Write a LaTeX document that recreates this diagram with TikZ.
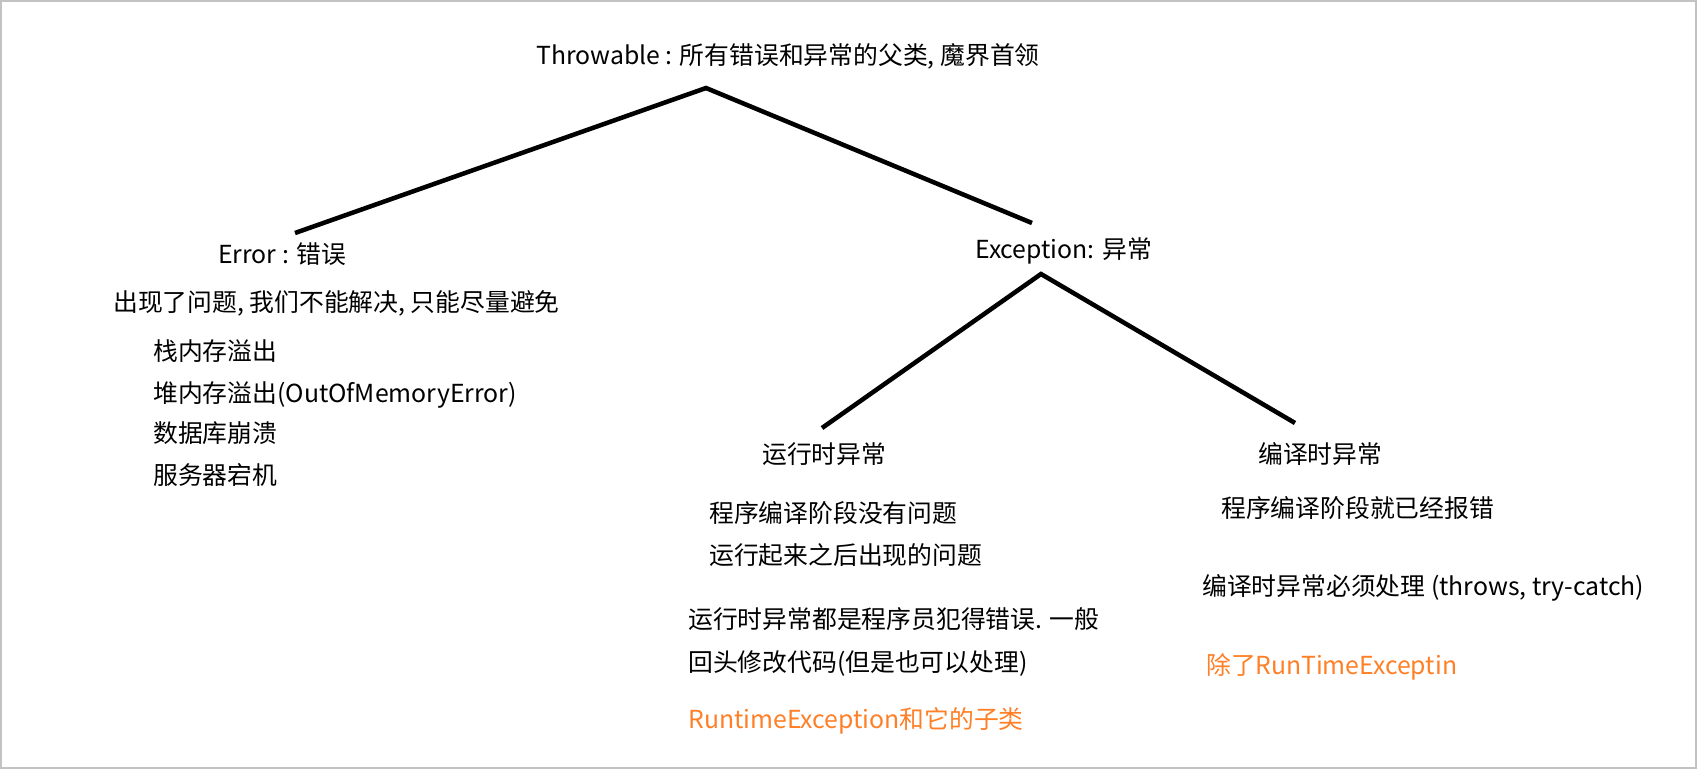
\documentclass[tikz,border=0pt]{standalone}
\usepackage{fontspec}
\setmainfont{Noto Sans CJK SC}
\definecolor{framegray}{RGB}{195,195,195}
\definecolor{noteorange}{RGB}{255,127,39}
\tikzset{
  lbl/.style={anchor=base west, inner sep=0pt, font=\fontsize{18.6}{22}\selectfont},
  note/.style={lbl, text=noteorange},
  branch/.style={line width=3.4pt, line join=miter}
}
\begin{document}
\begin{tikzpicture}[x=0.75pt, y=-0.75pt]
  % canvas and frame (pixel units, origin top-left)
  \useasboundingbox (0,0) rectangle (1697,769);
  \fill[white] (0,0) rectangle (1697,769);
  \draw[framegray, line width=1.5pt] (1,1) rectangle (1696,768);

  % root
  \node[lbl] (thr) at (536,64.4) {Throwable : 所有错误和异常的父类, 魔界首领};

  % Error branch
  \node[lbl] (err)  at (218,263.4) {Error : 错误};
  \node[lbl] (errd) at (113,311.4) {出现了问题, 我们不能解决, 只能尽量避免};
  \node[lbl] (e1)   at (153,360.4) {栈内存溢出};
  \node[lbl] (e2)   at (153,402.4) {堆内存溢出(OutOfMemoryError)};
  \node[lbl] (e3)   at (153,442.4) {数据库崩溃};
  \node[lbl] (e4)   at (153,484.4) {服务器宕机};

  % Exception branch
  \node[lbl] (exc) at (975,258.4) {Exception: 异常};

  % runtime exceptions
  \node[lbl]  (rt)  at (762,463.4) {运行时异常};
  \node[lbl]  (rt1) at (709,522.4) {程序编译阶段没有问题};
  \node[lbl]  (rt2) at (709,564.4) {运行起来之后出现的问题};
  \node[lbl]  (rt3) at (688,628.4) {运行时异常都是程序员犯得错误. 一般};
  \node[lbl]  (rt4) at (688,671.4) {回头修改代码(但是也可以处理)};
  \node[note] (rt5) at (688,728.4) {RuntimeException和它的子类};

  % compile-time exceptions
  \node[lbl]  (ct)  at (1258,463.4) {编译时异常};
  \node[lbl]  (ct1) at (1221,517.4) {程序编译阶段就已经报错};
  \node[lbl]  (ct2) at (1202,595.4) {编译时异常必须处理 (throws, try-catch)};
  \node[note] (ct3) at (1206,674.4) {除了RunTimeExceptin};

  % tree branches
  \coordinate (thrTip) at (706,88);
  \coordinate (errTop) at (295,233);
  \coordinate (excTop) at (1032,223);
  \coordinate (excTip) at (1041,274);
  \coordinate (rtTop)  at (822,428);
  \coordinate (ctTop)  at (1295,423);

  \draw[branch] (errTop) -- (thrTip) -- (excTop);
  \draw[branch] (rtTop) -- (excTip) -- (ctTop);
\end{tikzpicture}
\end{document}
